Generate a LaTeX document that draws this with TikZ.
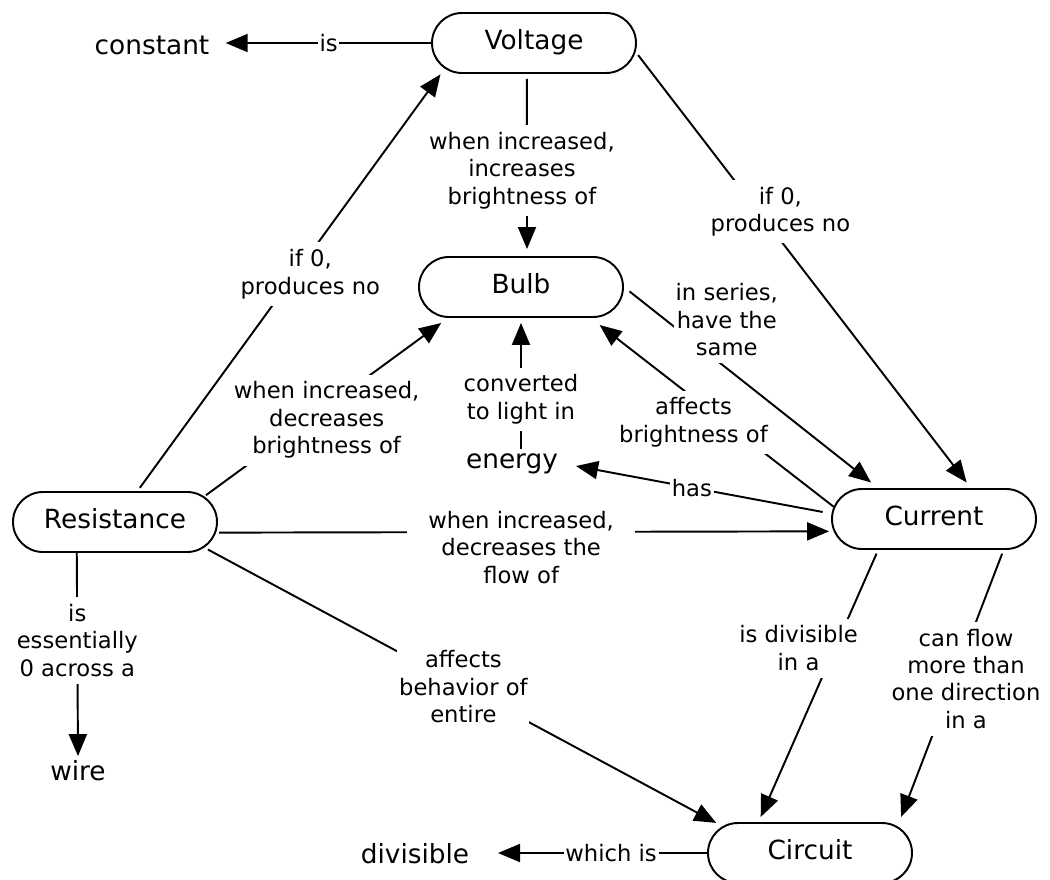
\documentclass[tikz,border=0pt]{standalone}
\usepackage{fontspec}
\setmainfont{DejaVu Sans}
\usetikzlibrary{arrows.meta, shapes.misc}

\begin{document}
\begin{tikzpicture}[
    >={Triangle[length=4.4mm, width=3.6mm]},
    cpt/.style  = {rounded rectangle, draw=black, line width=1.1pt, minimum width=40.8mm,
                   minimum height=12mm, inner sep=0pt, font=\fontsize{15}{18}\selectfont,
                   text height=0.73em, text depth=0pt},
    word/.style = {inner sep=2pt, anchor=base, font=\fontsize{15}{18}\selectfont},
    con/.style  = {->, line width=1.1pt, shorten >=1.4mm, shorten <=0.8mm},
    llab/.style = {fill=white, align=center, inner xsep=1pt, inner ysep=4pt,
                   font=\fontsize{12.9}{15.6}\selectfont}
  ]
  \useasboundingbox (0,0) rectangle (21,-17.6);

  % --- concepts (ovals) ---
  \node[cpt] (Voltage)    at (10.68,-0.86)  {Voltage};
  \node[cpt] (Bulb)       at (10.42,-5.74)  {Bulb};
  \node[cpt] (Resistance) at (2.30,-10.44)  {Resistance};
  \node[cpt] (Current)    at (18.68,-10.38) {Current};
  \node[cpt] (Circuit)    at (16.20,-17.06) {Circuit};

  % --- concepts (plain words) ---
  \node[word] (constant)  at (3.04,-1.08)  {constant};
  \node[word] (energy)    at (10.24,-9.36) {energy};
  \node[word] (wire)      at (1.56,-15.60) {wire};
  \node[word] (divisible) at (8.30,-17.26) {divisible};

  % --- links from Voltage ---
  \draw[con, shorten <=0pt, shorten >=2.5mm] (Voltage.west) --
       node[llab, pos=0.47]{is} (Voltage.west -| constant.east);
  \draw[con, shorten <=1mm] (Voltage.257) --
       node[llab, pos=0.53, xshift=-1mm]{when increased,\\increases\\brightness of} (Bulb.79);
  \draw[con] (Voltage.355) --
       node[llab, pos=0.39, xshift=2.8mm, yshift=2.1mm]{if 0,\\produces no} (Current.40);

  % --- links from Resistance ---
  \draw[con] (Resistance.54) --
       node[llab, pos=0.53, xshift=2mm, yshift=-1.4mm]{if 0,\\produces no} (Voltage.196);
  \draw[con, shorten <=0.4mm, shorten >=1.7mm] (Resistance.16) --
       node[llab, pos=0.475, xshift=1.3mm, yshift=-1.7mm]{when increased,\\decreases\\brightness of} (Bulb.203);
  \draw[con, shorten <=0.6mm, shorten >=0.9mm] (Resistance.354) --
       node[llab, pos=0.494, yshift=-3.1mm, inner xsep=12pt]{when increased,\\decreases the\\flow of} (Current.187);
  \draw[con, shorten <=0pt, shorten >=0pt] (Resistance.219) --
       node[llab, pos=0.43]{is\\essentially\\0 across a} (wire.north);
  \draw[con] (Resistance.344) --
       node[llab, pos=0.5]{affects\\behavior of\\entire} (Circuit.163);

  % --- links around Bulb ---
  \draw[con, shorten <=0pt, shorten >=1mm] (Bulb.south |- energy.north) --
       node[llab, pos=0.38]{converted\\to light in} (Bulb.south);
  \draw[con, shorten <=0pt, shorten >=2.3mm] (Current.173) --
       node[llab, pos=0.527, xshift=-2.4mm, yshift=-3mm]{affects\\brightness of} (Bulb.336);
  \draw[con, shorten <=1.4mm, shorten >=1.8mm] (Bulb.east) --
       node[llab, pos=0.312, xshift=4.7mm, yshift=6mm]{in series,\\have the\\same} (Current.151);

  % --- links from Current ---
  \draw[con, shorten <=1.8mm, shorten >=2.9mm] (Current.177) --
       node[llab, pos=0.518]{has} (energy.east);
  \draw[con, shorten >=1.1mm] (Current.209) --
       node[llab, pos=0.41, xshift=-6.1mm, yshift=2.7mm]{is divisible\\in a} (Circuit.149);
  \draw[con, shorten >=2mm] (Current.336) --
       node[llab, pos=0.43, xshift=1.6mm, yshift=-2mm]{can flow\\more than\\one direction\\in a} (Circuit.17);

  % --- link from Circuit ---
  \draw[con, shorten <=0pt, shorten >=5mm] (Circuit.west) --
       node[llab, pos=0.41]{which is} (Circuit.west -| divisible.east);

\end{tikzpicture}
\end{document}
